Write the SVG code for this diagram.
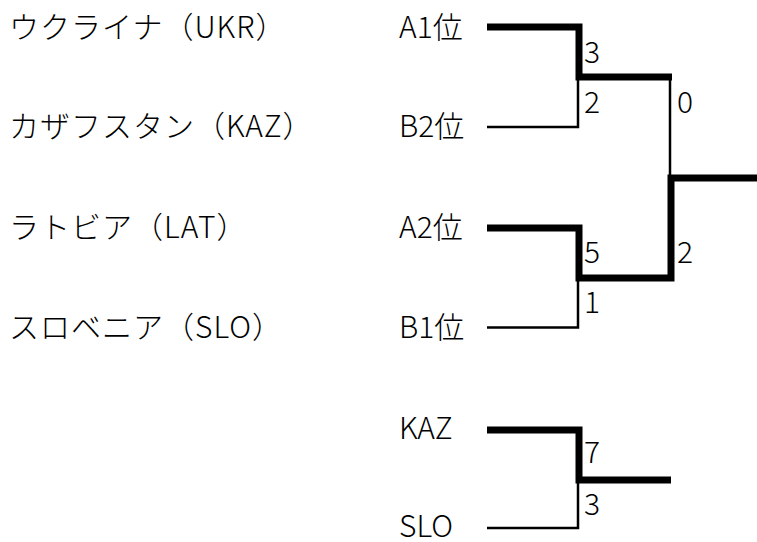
<svg xmlns="http://www.w3.org/2000/svg" width="757" height="542" viewBox="0 0 757 542">
<style>
text{font-family:"Noto Sans CJK JP","Noto Sans",sans-serif;font-size:30px;font-weight:300;fill:#000}
.team{letter-spacing:1px}
.thick{fill:none;stroke:#000;stroke-width:7;stroke-linejoin:miter;stroke-linecap:butt}
.thin{fill:none;stroke:#000;stroke-width:2.5;stroke-linecap:butt}
</style>
<rect width="757" height="542" fill="#fff"/>
<g id="teams">
<text class="team" x="9" y="37.5">ウクライナ（UKR）</text>
<text class="team" x="9" y="137">カザフスタン（KAZ）</text>
<text class="team" x="9" y="237.5">ラトビア（LAT）</text>
<text class="team" x="9" y="337.5">スロベニア（SLO）</text>
</g>
<g id="node-a1"><text x="399" y="37.5">A1位</text></g>
<g id="node-b2"><text x="399" y="137">B2位</text></g>
<g id="node-a2"><text x="399" y="237.5">A2位</text></g>
<g id="node-b1"><text x="399" y="337.5">B1位</text></g>
<g id="node-kaz"><text x="399" y="439">KAZ</text></g>
<g id="node-slo"><text x="399" y="536.5">SLO</text></g>
<g id="connectors">
<path class="thin" d="M487,127 H578 V80"/>
<path class="thin" d="M670,78 V178"/>
<path class="thick" d="M487,27 H579 V77 H672"/>
<path class="thin" d="M487,327.5 H578 V280"/>
<path class="thick" d="M487,228 H579 V278 H671 V178 H757"/>
<path class="thin" d="M487,528 H578 V482"/>
<path class="thick" d="M487,430 H579 V480 H671"/>
</g>
<g id="scores">
<text x="584" y="62.5">3</text>
<text x="584" y="112.5">2</text>
<text x="677" y="113">0</text>
<text x="584" y="263">5</text>
<text x="584" y="313">1</text>
<text x="677" y="263">2</text>
<text x="584" y="463">7</text>
<text x="584" y="515">3</text>
</g>
</svg>
